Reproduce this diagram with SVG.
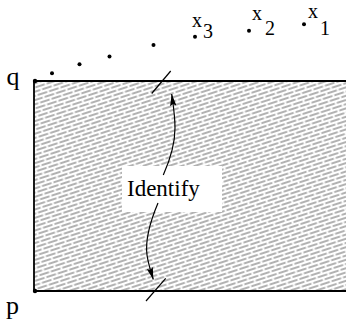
<svg xmlns="http://www.w3.org/2000/svg" width="346" height="324" viewBox="0 0 346 324" font-family="'Liberation Serif', 'Times New Roman', serif">
<style>
  .dot { fill: #000; }
  .edge { stroke: #000; stroke-width: 1.8; fill: none; }
  .tick { stroke: #000; stroke-width: 1.2; fill: none; }
  .arr { stroke: #000; stroke-width: 1.2; fill: none; marker-end: url(#ah); }
  .h { stroke: #222; stroke-width: 0.7; }
</style>
<defs>
  <pattern id="hatch" patternUnits="userSpaceOnUse" width="12" height="8" patternTransform="rotate(-18)">
    <line class="h" x1="0.5" y1="2" x2="10.5" y2="2"/>
    <line class="h" x1="6.5" y1="6" x2="12" y2="6"/>
    <line class="h" x1="0" y1="6" x2="4.5" y2="6"/>
  </pattern>
  <marker id="ah" markerWidth="13" markerHeight="8" refX="12" refY="4" orient="auto" markerUnits="userSpaceOnUse">
    <path d="M0,0.8 L12,4 L0,7.2 L2,4 Z" fill="#000"/>
  </marker>
</defs>

<g id="region">
  <rect x="34" y="81" width="312" height="210" fill="url(#hatch)"/>
  <path class="edge" d="M346,81 H34 V291 H346"/>
</g>

<g id="label-box">
  <rect x="122" y="166" width="100" height="46" fill="#fff"/>
  <text x="127" y="196" font-family="Liberation Serif, serif" font-size="23">Identify</text>
</g>

<g id="node-q">
  <circle class="dot" cx="35" cy="81" r="2.2"/>
  <text x="6.5" y="85" font-family="Liberation Serif, serif" font-size="26">q</text>
</g>
<g id="node-p">
  <circle class="dot" cx="35" cy="291" r="2.2"/>
  <text x="6" y="314" font-family="Liberation Serif, serif" font-size="26">p</text>
</g>

<g id="sequence">
  <circle class="dot" cx="52" cy="73.3" r="2"/>
  <circle class="dot" cx="79.5" cy="64.3" r="2"/>
  <circle class="dot" cx="109.5" cy="56.5" r="2"/>
  <circle class="dot" cx="153.5" cy="45" r="2"/>
</g>
<g id="node-x3" font-family="Liberation Serif, serif" font-size="20">
  <circle class="dot" cx="195" cy="36.7" r="2"/>
  <text x="192" y="27">x</text>
  <text x="203" y="38">3</text>
</g>
<g id="node-x2" font-family="Liberation Serif, serif" font-size="20">
  <circle class="dot" cx="249" cy="30.7" r="2"/>
  <text x="252" y="20">x</text>
  <text x="265" y="35">2</text>
</g>
<g id="node-x1" font-family="Liberation Serif, serif" font-size="20">
  <circle class="dot" cx="304" cy="24.3" r="2"/>
  <text x="308" y="18">x</text>
  <text x="320" y="35">1</text>
</g>

<g id="connectors">
  <line class="tick" x1="151.7" y1="93.5" x2="170.7" y2="71"/>
  <line class="tick" x1="146" y1="301" x2="165.7" y2="278.3"/>
  <path class="arr" d="M163.3,175 C170,160 175,145 175,128 C175,115 173,104 171.7,94"/>
  <path class="arr" d="M158,203 C150,222 145,240 147,255 C148.5,265 151,272 153.3,279.5"/>
</g>
</svg>
